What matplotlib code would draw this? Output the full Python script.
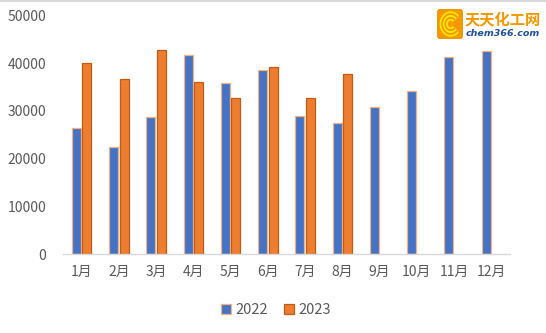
import numpy as np
import matplotlib.pyplot as plt
from matplotlib.patches import FancyBboxPatch, Wedge

plt.rcParams["font.family"] = ["Noto Sans CJK SC", "DejaVu Sans"]

months = ["1月", "2月", "3月", "4月", "5月", "6月", "7月", "8月", "9月", "10月", "11月", "12月"]
v2022 = [26500, 22400, 28800, 41800, 35900, 38500, 29000, 27400, 30800, 34200, 41400, 42600]
v2023 = [40000, 36600, 42700, 36000, 32600, 39100, 32600, 37700, np.nan, np.nan, np.nan, np.nan]
yticks = [0, 10000, 20000, 30000, 40000, 50000]

blue = "#4472C4"
orange = "#ED7D31"
grey = "#595959"

fig = plt.figure(figsize=(5.46, 3.33), dpi=100)
ax = fig.add_axes([0.1154, 0.2372, 0.8186, 0.7163])

x = np.arange(len(months))
w = 0.24
off = 0.142
ax.bar(x - off, v2022, w, color=blue, edgecolor="#F4B183", linewidth=0.9, label="2022")
ax.bar(x + off, v2023, w, color=orange, edgecolor="#C55A11", linewidth=0.9, label="2023")

ax.set_xlim(-0.5, len(months) - 0.5)
ax.set_ylim(0, 50000)
ax.set_yticks(yticks)
ax.set_yticklabels([str(t) for t in yticks])
ax.set_xticks(x)
ax.set_xticklabels(months)
ax.tick_params(axis="both", length=0, colors=grey, labelsize=10)
ax.tick_params(axis="y", pad=12)
ax.tick_params(axis="x", pad=8)
for s in ["top", "right", "left"]:
    ax.spines[s].set_visible(False)
ax.spines["bottom"].set_color("#D9D9D9")
ax.spines["bottom"].set_linewidth(1)

leg = fig.legend(loc="center", bbox_to_anchor=(0.505, 0.068), ncol=2, frameon=False,
                 fontsize=10.5, handlelength=0.7, handleheight=0.7, handletextpad=0.3,
                 columnspacing=1.1)
for t in leg.get_texts():
    t.set_color(grey)

# top frame line
fig.add_artist(plt.Line2D([0, 1], [0.997, 0.997], color="#D9D9D9", linewidth=1.5,
                          transform=fig.transFigure))

# logo
lx, ly = 437 / 546, 1 - 39 / 333
lw_, lh_ = 26 / 546, 30 / 333
lax = fig.add_axes([lx, ly, lw_, lh_], zorder=5)
lax.set_xlim(-1, 1)
lax.set_ylim(-1, 1)
lax.axis("off")
lax.add_patch(FancyBboxPatch((-1, -1), 2, 2, boxstyle="round,pad=0,rounding_size=0.2",
                             facecolor="#F39800", edgecolor="none"))
for r, c in [(0.85, "#FFE600"), (0.72, "#F39800"), (0.6, "#FFE600"), (0.47, "#F39800"),
             (0.35, "#FFE600"), (0.22, "#F39800")]:
    lax.add_patch(Wedge((0.05, 0), r, 40, 320, facecolor=c, edgecolor="none"))
fig.text(465 / 546, 1 - 19 / 333, "天天化工网", color="#F39800", fontsize=11, fontweight="bold",
         va="center", ha="left")
fig.text(466 / 546, 1 - 33 / 333, "chem366.com", color="#1F4E9E", fontsize=6.8,
         fontweight="bold", style="italic", va="center", ha="left", family="DejaVu Sans")

fig.savefig("out.png", dpi=100)
